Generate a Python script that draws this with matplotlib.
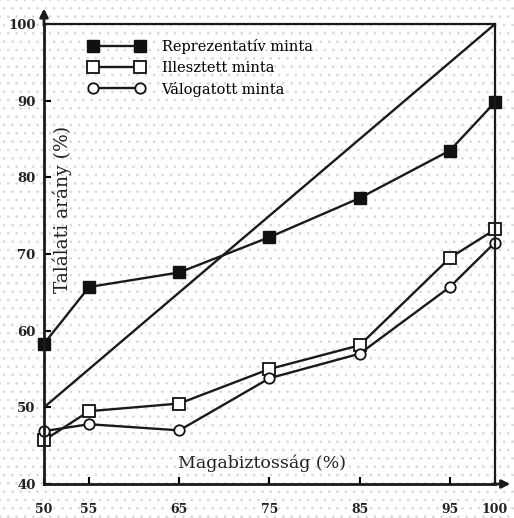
import numpy as np
import matplotlib.pyplot as plt

plt.rcParams['font.family'] = ['DejaVu Serif', 'Liberation Serif']
plt.rcParams['hatch.color'] = '#d6d6d6'
plt.rcParams['hatch.linewidth'] = 0.6

# adatok
x_vals = [50, 55, 65, 75, 85, 95, 100]
reprezentativ = [58.3, 65.7, 67.6, 72.2, 77.3, 83.5, 89.8]
illesztett = [45.7, 49.5, 50.5, 55.0, 58.1, 69.5, 73.2]
valogatott = [46.9, 47.8, 47.0, 53.8, 57.0, 65.7, 71.5]
series_names = ['Reprezentatív minta', 'Illesztett minta', 'Válogatott minta']
x_ticks = [50, 55, 65, 75, 85, 95, 100]
y_ticks = [40, 50, 60, 70, 80, 90, 100]

fig = plt.figure(figsize=(5.14, 5.18), dpi=100)
fig.patch.set_facecolor('white')
ax = fig.add_axes([0.0856, 0.0656, 0.8774, 0.888])
ax.patch.set_alpha(0)

# pöttyös háttér
bg = fig.add_axes([0, 0, 1, 1], zorder=-1)
bg.add_patch(plt.Rectangle((0, 0), 1, 1, facecolor='white', hatch='..', lw=0))
bg.axis('off')

ax.plot([50, 100], [50, 100], color='#1a1a1a', lw=1.7)
ax.plot(x_vals, reprezentativ, '-s', color='#1a1a1a', lw=1.7, ms=9,
        mfc='#111111', mec='#111111', label=series_names[0], clip_on=False)
ax.plot(x_vals, illesztett, '-s', color='#1a1a1a', lw=1.7, ms=9,
        mfc='white', mec='#111111', mew=1.3, label=series_names[1], clip_on=False)
ax.plot(x_vals, valogatott, '-o', color='#1a1a1a', lw=1.7, ms=7.5,
        mfc='white', mec='#111111', mew=1.3, label=series_names[2], clip_on=False)

ax.set_xlim(50, 100)
ax.set_ylim(40, 100)
for s in ax.spines.values():
    s.set_linewidth(2)
    s.set_color('#1a1a1a')
ax.spines['top'].set_linewidth(1.6)
ax.spines['right'].set_linewidth(1.6)

ax.set_xticks(x_ticks)
ax.set_yticks(y_ticks)
ax.set_xticklabels([str(v) for v in x_ticks], fontweight='bold', fontsize=9, color='#222222')
ax.set_yticklabels([str(v) for v in y_ticks], fontweight='bold', fontsize=9.5, color='#222222')
ax.tick_params(direction='in', length=5, width=1.5, top=False, right=False)
ax.tick_params(axis='x', pad=14)
ax.tick_params(axis='y', pad=6)

# nyilak
ax.annotate('', xy=(0, 1.04), xytext=(0, 0.99), xycoords='axes fraction',
            arrowprops=dict(arrowstyle='-|>', color='#1a1a1a', lw=2, mutation_scale=12))
ax.annotate('', xy=(1.04, 0), xytext=(0.99, 0), xycoords='axes fraction',
            arrowprops=dict(arrowstyle='-|>', color='#1a1a1a', lw=2, mutation_scale=12))

ax.text(0.04, 0.596, 'Találati arány (%)', transform=ax.transAxes, rotation=90,
        ha='center', va='center', fontsize=13.5, color='#222222')
ax.text(0.483, 0.046, 'Magabiztosság (%)', transform=ax.transAxes,
        ha='center', va='center', fontsize=12.5, color='#222222')

ax.legend(loc='upper left', bbox_to_anchor=(0.07, 0.995), frameon=False, numpoints=2,
          handlelength=3.8, fontsize=10.5, labelspacing=0.45, handletextpad=1.2)

fig.savefig('out.png', dpi=100)
